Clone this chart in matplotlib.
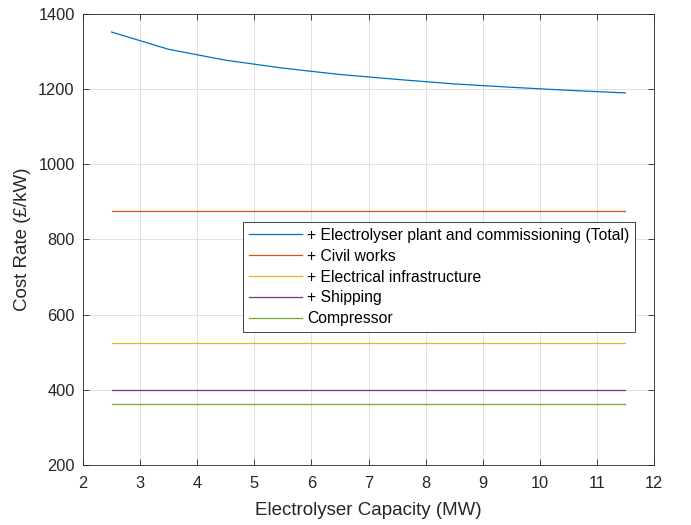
import matplotlib
matplotlib.use("Agg")
import matplotlib.pyplot as plt
import numpy as np

# ── Data ───────────────────────────────────────────────────────────────
capacity = [2.5, 3.5, 4.5, 5.5, 6.5, 7.5, 8.5, 9.5, 10.5, 11.5]
total = [1352, 1306, 1277, 1256, 1239, 1226, 1214, 1205, 1197, 1190]
civil = [875] * len(capacity)
electrical = [525] * len(capacity)
shipping = [400] * len(capacity)
compressor = [361] * len(capacity)

labels = [
    "+ Electrolyser plant and commissioning (Total)",
    "+ Civil works",
    "+ Electrical infrastructure",
    "+ Shipping",
    "Compressor",
]
colors = ["#0072BD", "#D95319", "#EDB120", "#7E2F8E", "#77AC30"]

plt.rcParams.update({
    "font.family": ["Liberation Sans", "DejaVu Sans"],
    "font.size": 11,
    "axes.linewidth": 0.6,
    "xtick.direction": "in",
    "ytick.direction": "in",
    "xtick.top": True,
    "ytick.right": True,
    "xtick.major.width": 0.6,
    "ytick.major.width": 0.6,
    "xtick.major.size": 4,
    "ytick.major.size": 4,
    "xtick.color": "#262626",
    "ytick.color": "#262626",
})

fig = plt.figure(figsize=(6.91, 5.25), dpi=100)
ax = fig.add_axes([83 / 691, 1 - 465 / 525, 571 / 691, 451 / 525])

series = [total, civil, electrical, shipping, compressor]
for vals, lab, col in zip(series, labels, colors):
    ax.plot(capacity, vals, color=col, linewidth=0.9, label=lab)

ax.set_xlim(2, 12)
ax.set_ylim(200, 1400)
ax.set_xticks(np.arange(2, 13, 1))
ax.set_yticks(np.arange(200, 1401, 200))
ax.tick_params(labelsize=11.8)
ax.tick_params(axis="x", pad=8)
ax.tick_params(axis="y", pad=6)
ax.grid(True, color="#dcdcdc", linewidth=0.6)
ax.set_axisbelow(True)
ax.set_xlabel("Electrolyser Capacity (MW)", fontsize=13.5, color="#262626", labelpad=8)
ax.set_ylabel("Cost Rate (£/kW)", fontsize=13.5, color="#262626", labelpad=5)
for s in ax.spines.values():
    s.set_color("#262626")

leg = ax.legend(loc="lower right", bbox_to_anchor=(0.966, 0.295), fontsize=11.3,
                fancybox=False, framealpha=1, edgecolor="#262626",
                handlelength=3.4, handletextpad=0.3, borderaxespad=0,
                borderpad=0.35, labelspacing=0.38)
leg.get_frame().set_linewidth(0.6)

fig.savefig("out.png", dpi=100)
